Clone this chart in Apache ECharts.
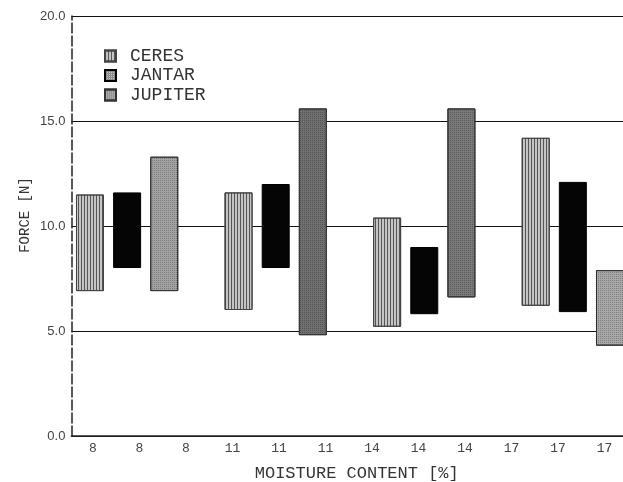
<!DOCTYPE html>
<html>
<head>
<meta charset="utf-8">
<script src="https://cdn.jsdelivr.net/npm/echarts@6/dist/echarts.min.js"></script>
<style>html,body{margin:0;padding:0;background:#fff}#c{width:623px;height:482px}</style>
</head>
<body>
<div id="c"></div>
<script>
// Moisture levels (one group of three bars each)
const moisture = ['8', '11', '14', '17'];
// Floating bars: low and high force [N] per variety
const ceresLow   = [6.9, 6.0, 5.2, 6.2];
const ceresHigh  = [11.5, 11.6, 10.4, 14.2];
const jantarLow  = [8.0, 8.0, 5.8, 5.9];
const jantarHigh = [11.6, 12.0, 9.0, 12.1];
const jupiterLow  = [6.9, 4.8, 6.6, 4.3];
const jupiterHigh = [13.3, 15.6, 15.6, 7.9];
const seriesNames = ['CERES', 'JANTAR', 'JUPITER'];
const yTicks = [0, 5, 10, 15, 20];

const lows = [ceresLow, jantarLow, jupiterLow];
const highs = [ceresHigh, jantarHigh, jupiterHigh];
// slot layout: 3 bars + 1 empty slot per group
const slots = [];
moisture.forEach(m => { slots.push(m + 'a', m + 'b', m + 'c', m + 'gap'); });
const tickLabels = [];
moisture.forEach(m => { tickLabels.push(m, m, m); });

const jupColors = ['#a3a3a3', '#707070', '#7a7a7a', '#a8a8a8'];
const styles = [
  { color: '#c4c4c4', borderColor: '#444', borderWidth: 1,
    decal: { symbol: 'rect', symbolSize: 1, dashArrayX: [1, 2], dashArrayY: [2, 0], rotation: 0, color: 'rgba(40,40,40,0.7)' } },
  { color: '#050505', borderColor: '#000', borderWidth: 1 },
  { color: '#999', borderColor: '#333', borderWidth: 1,
    decal: { symbol: 'rect', symbolSize: 1, dashArrayX: [1, 1], dashArrayY: [1, 1], rotation: 0, color: 'rgba(0,0,0,0.25)' } }
];

const series = [];
seriesNames.forEach((name, s) => {
  const base = slots.map(() => '-');
  const span = slots.map(() => '-');
  moisture.forEach((m, g) => {
    base[g * 4 + s] = lows[s][g];
    const v = +(highs[s][g] - lows[s][g]).toFixed(2);
    span[g * 4 + s] = (s === 2) ? { value: v, itemStyle: { color: jupColors[g] } } : v;
  });
  series.push({
    name: name + '_base', type: 'bar', stack: 'st' + s, data: base,
    xAxisIndex: 0, yAxisIndex: 0, barWidth: 28, barGap: '-100%',
    itemStyle: { color: 'transparent' }, silent: true
  });
  series.push({
    name: name, type: 'bar', stack: 'st' + s, data: span,
    xAxisIndex: 0, yAxisIndex: 0, barWidth: 28, barGap: '-100%',
    itemStyle: styles[s]
  });
});

const chart = echarts.init(document.getElementById('c'), null, { renderer: 'canvas' });
const mono = 'Liberation Mono, DejaVu Sans Mono, monospace';
chart.setOption({
  animation: false,
  backgroundColor: '#fff',
  grid: [
    { left: 71.4, width: 594.3, top: 16, height: 420, outerBoundsMode: 'none', containLabel: false },
    { left: 69.75, width: 558, top: 16, height: 420, outerBoundsMode: 'none', containLabel: false }
  ],
  legend: {
    orient: 'vertical', left: 104, top: 47, padding: 0,
    itemWidth: 11, itemHeight: 11, itemGap: 1.5, icon: 'rect',
    selectedMode: false,
    data: [
      { name: 'CERES' },
      { name: 'JANTAR', itemStyle: { color: '#8a8a8a', decal: { symbol: 'rect', symbolSize: 1, dashArrayX: [1, 1], dashArrayY: [1, 1], color: 'rgba(255,255,255,0.5)' } } },
      { name: 'JUPITER', itemStyle: { color: '#a8a8a8' } }
    ],
    textStyle: { fontFamily: mono, fontSize: 18, color: '#333', padding: [0, 0, 0, 9] }
  },
  xAxis: [
    { type: 'category', gridIndex: 0, data: slots,
      axisLine: { show: true, onZero: false, lineStyle: { color: '#222', width: 1.5 } },
      axisTick: { show: false }, axisLabel: { show: false }, splitLine: { show: false } },
    { type: 'category', gridIndex: 1, data: tickLabels, position: 'bottom',
      axisLine: { show: false }, axisTick: { show: false },
      axisLabel: { margin: 6, fontFamily: mono, fontSize: 13, color: '#444' },
      name: 'MOISTURE CONTENT [%]', nameLocation: 'middle', nameGap: 29,
      nameTextStyle: { fontFamily: mono, fontSize: 17, color: '#333', padding: [0, 0, 0, 16] } }
  ],
  yAxis: [
    { type: 'value', gridIndex: 0, min: 0, max: 20, interval: 5,
      axisLine: { show: true, lineStyle: { color: '#222', width: 1.5, type: [10, 3] } },
      axisTick: { show: false },
      axisLabel: { margin: 6, fontFamily: 'Liberation Sans, sans-serif', fontSize: 13, color: '#444',
        formatter: v => yTicks.indexOf(v) >= 0 ? v.toFixed(1) : '' },
      splitLine: { show: true, lineStyle: { color: '#111', width: 1.2 } },
      name: 'FORCE [N]', nameLocation: 'middle', nameGap: 39, nameRotate: 90, nameMoveOverlap: false,
      nameTextStyle: { fontFamily: mono, fontSize: 14, color: '#333', padding: [0, 0, 0, 22] } },
    { type: 'value', gridIndex: 1, min: 0, max: 20, show: false }
  ],
  series: series
});
</script>
</body>
</html>
